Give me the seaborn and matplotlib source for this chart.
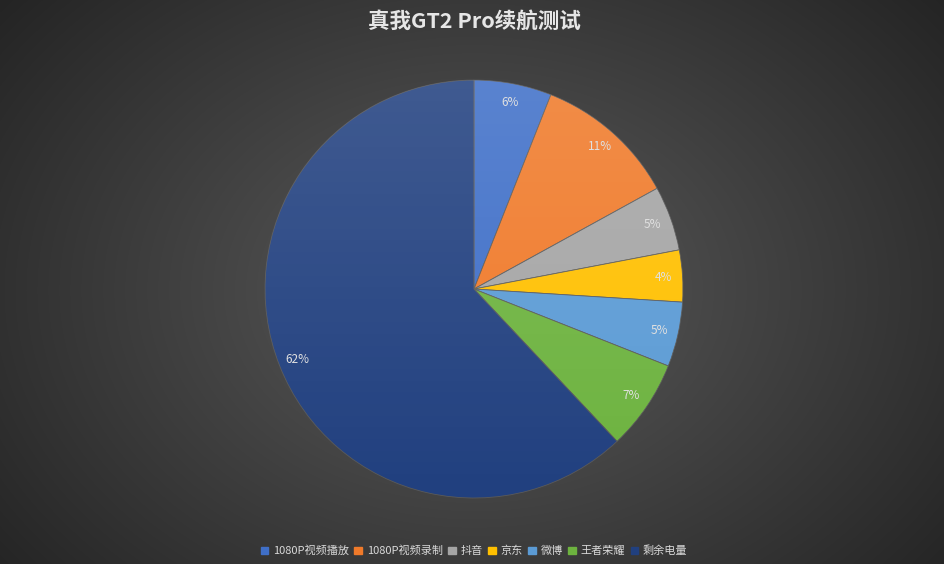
import numpy as np
import seaborn as sns
import matplotlib.pyplot as plt
from matplotlib.patches import Circle

labels = ['1080P视频播放', '1080P视频录制', '抖音', '京东', '微博', '王者荣耀', '剩余电量']
values = [6, 11, 5, 4, 5, 7, 62]
colors = ['#3F6FC8', '#F07A2A', '#A5A5A5', '#FFC000', '#5B9BD5', '#6DB33F', '#21407F']

sns.set_theme(style='white')
plt.rcParams['font.family'] = ['Noto Sans CJK SC', 'DejaVu Sans']

fig = plt.figure(figsize=(9.45, 5.64), dpi=100)

# radial gradient background
bg = fig.add_axes([0, 0, 1, 1])
yy, xx = np.mgrid[0:564, 0:945]
d = np.sqrt(((xx - 474) / 560.0) ** 2 + ((yy - 290) / 420.0) ** 2)
g = np.clip(0.36 - 0.2 * d, 0.14, 0.36)
bg.imshow(np.dstack([g, g, g]), aspect='auto', extent=[0, 1, 0, 1])
bg.set_axis_off()

ax = fig.add_axes([0.2804, 0.117, 0.4423, 0.7411])
palette = sns.color_palette(colors)
wedges, texts, autotexts = ax.pie(
    values, colors=palette, startangle=90, counterclock=False,
    autopct='%d%%', pctdistance=0.91, radius=1,
    wedgeprops=dict(linewidth=0.6, edgecolor='#5a5a5a'),
    textprops=dict(color='#e0e0e0', fontsize=8.5))
for w in wedges:
    w.set_zorder(1)

# soft vertical highlight over the pie
grad = np.linspace(0.14, 0.0, 256).reshape(-1, 1)
rgba = np.zeros((256, 1, 4))
rgba[..., :3] = 1.0
rgba[..., 3] = grad
img = ax.imshow(rgba, extent=[-1, 1, -1, 1], aspect='auto', zorder=2)
img.set_clip_path(Circle((0, 0), 1, transform=ax.transData))
for t in autotexts:
    t.set_zorder(3)
ax.set_xlim(-1, 1)
ax.set_ylim(-1, 1)
ax.set_aspect('equal')
ax.set_axis_off()

fig.text(0.5016, 0.962, '真我GT2 Pro续航测试', ha='center', va='center',
         fontsize=15.5, fontweight='bold', color='#e6e6e6')

handles = [plt.Rectangle((0, 0), 1, 1, color=c) for c in colors]
fig.legend(handles, labels, loc='center', bbox_to_anchor=(0.5016, 0.023),
           ncol=7, frameon=False, fontsize=8, labelcolor='#d9d9d9',
           handlelength=0.7, handleheight=0.7, handletextpad=0.4,
           columnspacing=0.5)

fig.savefig('out.png', dpi=100)
